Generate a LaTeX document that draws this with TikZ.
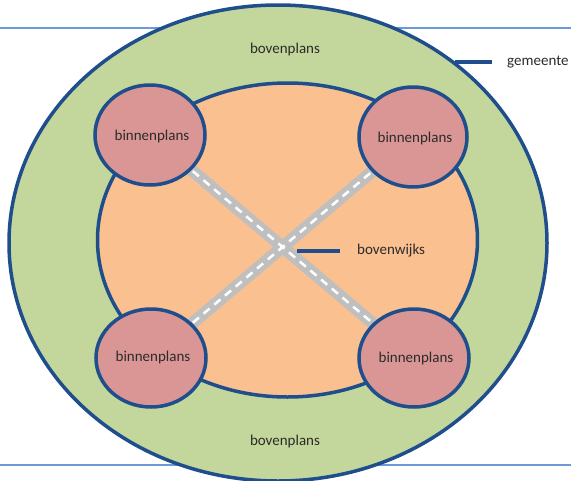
\documentclass[tikz,border=0pt]{standalone}
\usepackage{fontspec}
\setmainfont{Carlito}
\definecolor{bord}{HTML}{1F4E8C}
\definecolor{outerg}{HTML}{C3D69B}
\definecolor{innero}{HTML}{FAC090}
\definecolor{pinkc}{HTML}{D99694}
\definecolor{rule}{HTML}{6A9BD8}
\definecolor{road}{HTML}{BFBFBF}
\definecolor{txt}{HTML}{2B2B2B}
\tikzset{
  area/.style={draw=bord, line width=3.5pt},
  lbl/.style={text=txt, font=\fontsize{15}{17}\selectfont, inner sep=0pt},
  leader/.style={draw=bord, line width=3.5pt},
  roadbase/.style={draw=road, line width=12pt},
  roaddash/.style={draw=white, line width=2.5pt, dash pattern=on 8pt off 6pt},
}
\begin{document}
\begin{tikzpicture}[x=1pt,y=-1pt]
\useasboundingbox (0,0) rectangle (571,480);
\fill[white] (0,0) rectangle (571,480);
% horizontal rules
\coordinate (r1a) at (0,28); \coordinate (r1b) at (571,28);
\coordinate (r2a) at (0,465); \coordinate (r2b) at (571,465);
\draw[rule, line width=2pt] (r1a) -- (r1b);
\draw[rule, line width=2pt] (r2a) -- (r2b);
% outer ellipse
\draw[area, fill=outerg] (278,243) ellipse [x radius=269, y radius=238];
% inner ellipse
\draw[area, fill=innero] (287.5,240) ellipse [x radius=190, y radius=157];
% circle centres
\coordinate (ctl) at (150,135);
\coordinate (ctr) at (413,137);
\coordinate (cbl) at (151,358);
\coordinate (cbr) at (414,358);
% roads
\draw[roadbase] (ctl) -- (cbr);
\draw[roadbase] (ctr) -- (cbl);
\draw[roaddash] (ctl) -- (cbr);
\draw[roaddash] (ctr) -- (cbl);
% binnenplans
\draw[area, fill=pinkc] (ctl) ellipse [x radius=55, y radius=50];
\draw[area, fill=pinkc] (ctr) ellipse [x radius=54, y radius=50];
\draw[area, fill=pinkc] (cbl) ellipse [x radius=55, y radius=49];
\draw[area, fill=pinkc] (cbr) ellipse [x radius=55, y radius=49];
\node[lbl] (btl) at (152,136) {binnenplans};
\node[lbl] (btr) at (415,138) {binnenplans};
\node[lbl] (bbl) at (153,357) {binnenplans};
\node[lbl] (bbr) at (416,358) {binnenplans};
% bovenplans
\node[lbl] (bpt) at (285,49) {bovenplans};
\node[lbl] (bpb) at (285,441) {bovenplans};
% gemeente
\coordinate (g1) at (455,62);
\coordinate (g2) at (492,62);
\draw[leader] (g1) -- (g2);
\node[lbl, anchor=west] (gem) at (507,62) {gemeente};
% bovenwijks
\coordinate (w1) at (297,251);
\coordinate (w2) at (340,251);
\draw[leader] (w1) -- (w2);
\node[lbl, anchor=west] (bw) at (357,251) {bovenwijks};
\end{tikzpicture}
\end{document}
